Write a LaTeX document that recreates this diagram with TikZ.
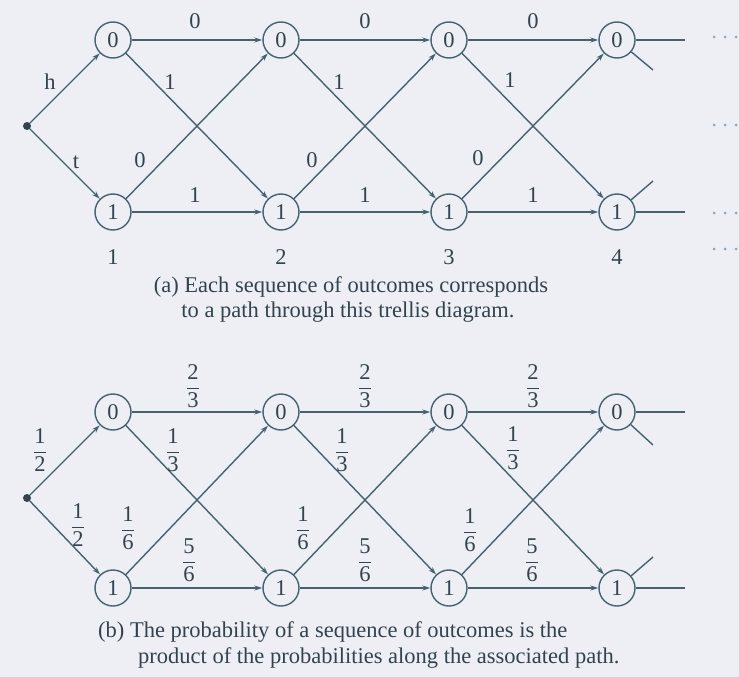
\documentclass[tikz,border=0pt]{standalone}
\usepackage{amsmath}
\usepackage{fontspec}
\setmainfont{Liberation Serif}
\usetikzlibrary{arrows.meta}
\definecolor{bg}{HTML}{EDEFF4}
\definecolor{ln}{HTML}{46626F}
\definecolor{tx}{HTML}{33434D}
\definecolor{dt}{HTML}{86A6C4}
\newcommand\fr[2]{$\dfrac{\textrm{#1}}{\textrm{#2}}$}
\begin{document}
\begin{tikzpicture}[x=1pt,y=-1pt,
  st/.style={circle,draw=ln,line width=1.4pt,minimum size=36pt,inner sep=0pt,fill=bg,text=tx,font=\fontsize{22.5}{26}\selectfont},
  lab/.style={text=tx,font=\fontsize{22.5}{26}\selectfont,inner sep=0pt},
  ed/.style={draw=ln,line width=1.4pt,-{Stealth[length=8pt,width=5pt]}},
  stub/.style={draw=ln,line width=1.4pt},
  startdot/.style={circle,fill=tx,inner sep=0pt,minimum size=8pt}]
\fill[bg] (0,0) rectangle (739,677);
\useasboundingbox (0,0) rectangle (739,677);

% ---------- (a) ----------
\foreach \i/\x in {1/113,2/281,3/449,4/617}{
  \node[st] (a0\i) at (\x,40) {0};
  \node[st] (a1\i) at (\x,212) {1};
}
\node[startdot] (as) at (27,126) {};
\draw[ed] (as) -- (a01);
\draw[ed] (as) -- (a11);
\foreach \i/\j in {1/2,2/3,3/4}{
  \draw[ed] (a0\i) -- (a0\j);
  \draw[ed] (a0\i) -- (a1\j);
  \draw[ed] (a1\i) -- (a0\j);
  \draw[ed] (a1\i) -- (a1\j);
}
\coordinate (ae0) at (685,40);
\coordinate (ad0) at (653,70);
\coordinate (ae1) at (685,212);
\coordinate (ad1) at (653,181);
\draw[stub] (a04) -- (ae0);
\draw[stub] (a04) -- (ad0);
\draw[stub] (a14) -- (ae1);
\draw[stub] (a14) -- (ad1);

\node[lab] (lh) at (50,82) {h};
\node[lab] (lt) at (76,162) {t};
\foreach \n/\x in {1/195,2/365,3/533}{
  \node[lab] (lta\n) at (\x,21) {0};
  \node[lab] (lba\n) at (\x,195) {1};
}
\node[lab] (lda1) at (170,82) {1};
\node[lab] (lda2) at (339,82) {1};
\node[lab] (lda3) at (510,80) {1};
\node[lab] (lua1) at (140,160) {0};
\node[lab] (lua2) at (312,160) {0};
\node[lab] (lua3) at (478,158) {0};
\foreach \n/\x in {1/113,2/281,3/449,4/617}{
  \node[lab] (col\n) at (\x,257) {\n};
}
\node[lab] (capa1) at (351,287) {(a) Each sequence of outcomes corresponds};
\node[lab] (capa2) at (348,312) {to a path through this trellis diagram.};

\foreach \y in {37,125,213,249}{
  \foreach \x in {714,725,736}{
    \fill[dt] (\x,\y) circle (1.5pt);
  }
}

% ---------- (b) ----------
\foreach \i/\x in {1/113,2/281,3/449,4/617}{
  \node[st] (b0\i) at (\x,412) {0};
  \node[st] (b1\i) at (\x,588) {1};
}
\node[startdot] (bs) at (27,498) {};
\draw[ed] (bs) -- (b01);
\draw[ed] (bs) -- (b11);
\foreach \i/\j in {1/2,2/3,3/4}{
  \draw[ed] (b0\i) -- (b0\j);
  \draw[ed] (b0\i) -- (b1\j);
  \draw[ed] (b1\i) -- (b0\j);
  \draw[ed] (b1\i) -- (b1\j);
}
\coordinate (be0) at (685,412);
\coordinate (bd0) at (653,445);
\coordinate (be1) at (685,588);
\coordinate (bd1) at (653,557);
\draw[stub] (b04) -- (be0);
\draw[stub] (b04) -- (bd0);
\draw[stub] (b14) -- (be1);
\draw[stub] (b14) -- (bd1);

\node[lab] (lp1) at (40,450) {\fr{1}{2}};
\node[lab] (lp2) at (78,525) {\fr{1}{2}};
\foreach \n/\x in {1/193,2/365,3/533}{
  \node[lab] (ltb\n) at (\x,386) {\fr{2}{3}};
}
\node[lab] (ldb1) at (173,450) {\fr{1}{3}};
\node[lab] (ldb2) at (342,450) {\fr{1}{3}};
\node[lab] (ldb3) at (513,448) {\fr{1}{3}};
\node[lab] (lub1) at (128,528) {\fr{1}{6}};
\node[lab] (lub2) at (303,528) {\fr{1}{6}};
\node[lab] (lub3) at (470,530) {\fr{1}{6}};
\node[lab] (lbb1) at (189,560) {\fr{5}{6}};
\node[lab] (lbb2) at (365,560) {\fr{5}{6}};
\node[lab] (lbb3) at (532,560) {\fr{5}{6}};

\node[lab,anchor=west] (capb1) at (98,632) {(b) The probability of a sequence of outcomes is the};
\node[lab,anchor=west] (capb2) at (138,658) {product of the probabilities along the associated path.};
\end{tikzpicture}
\end{document}
